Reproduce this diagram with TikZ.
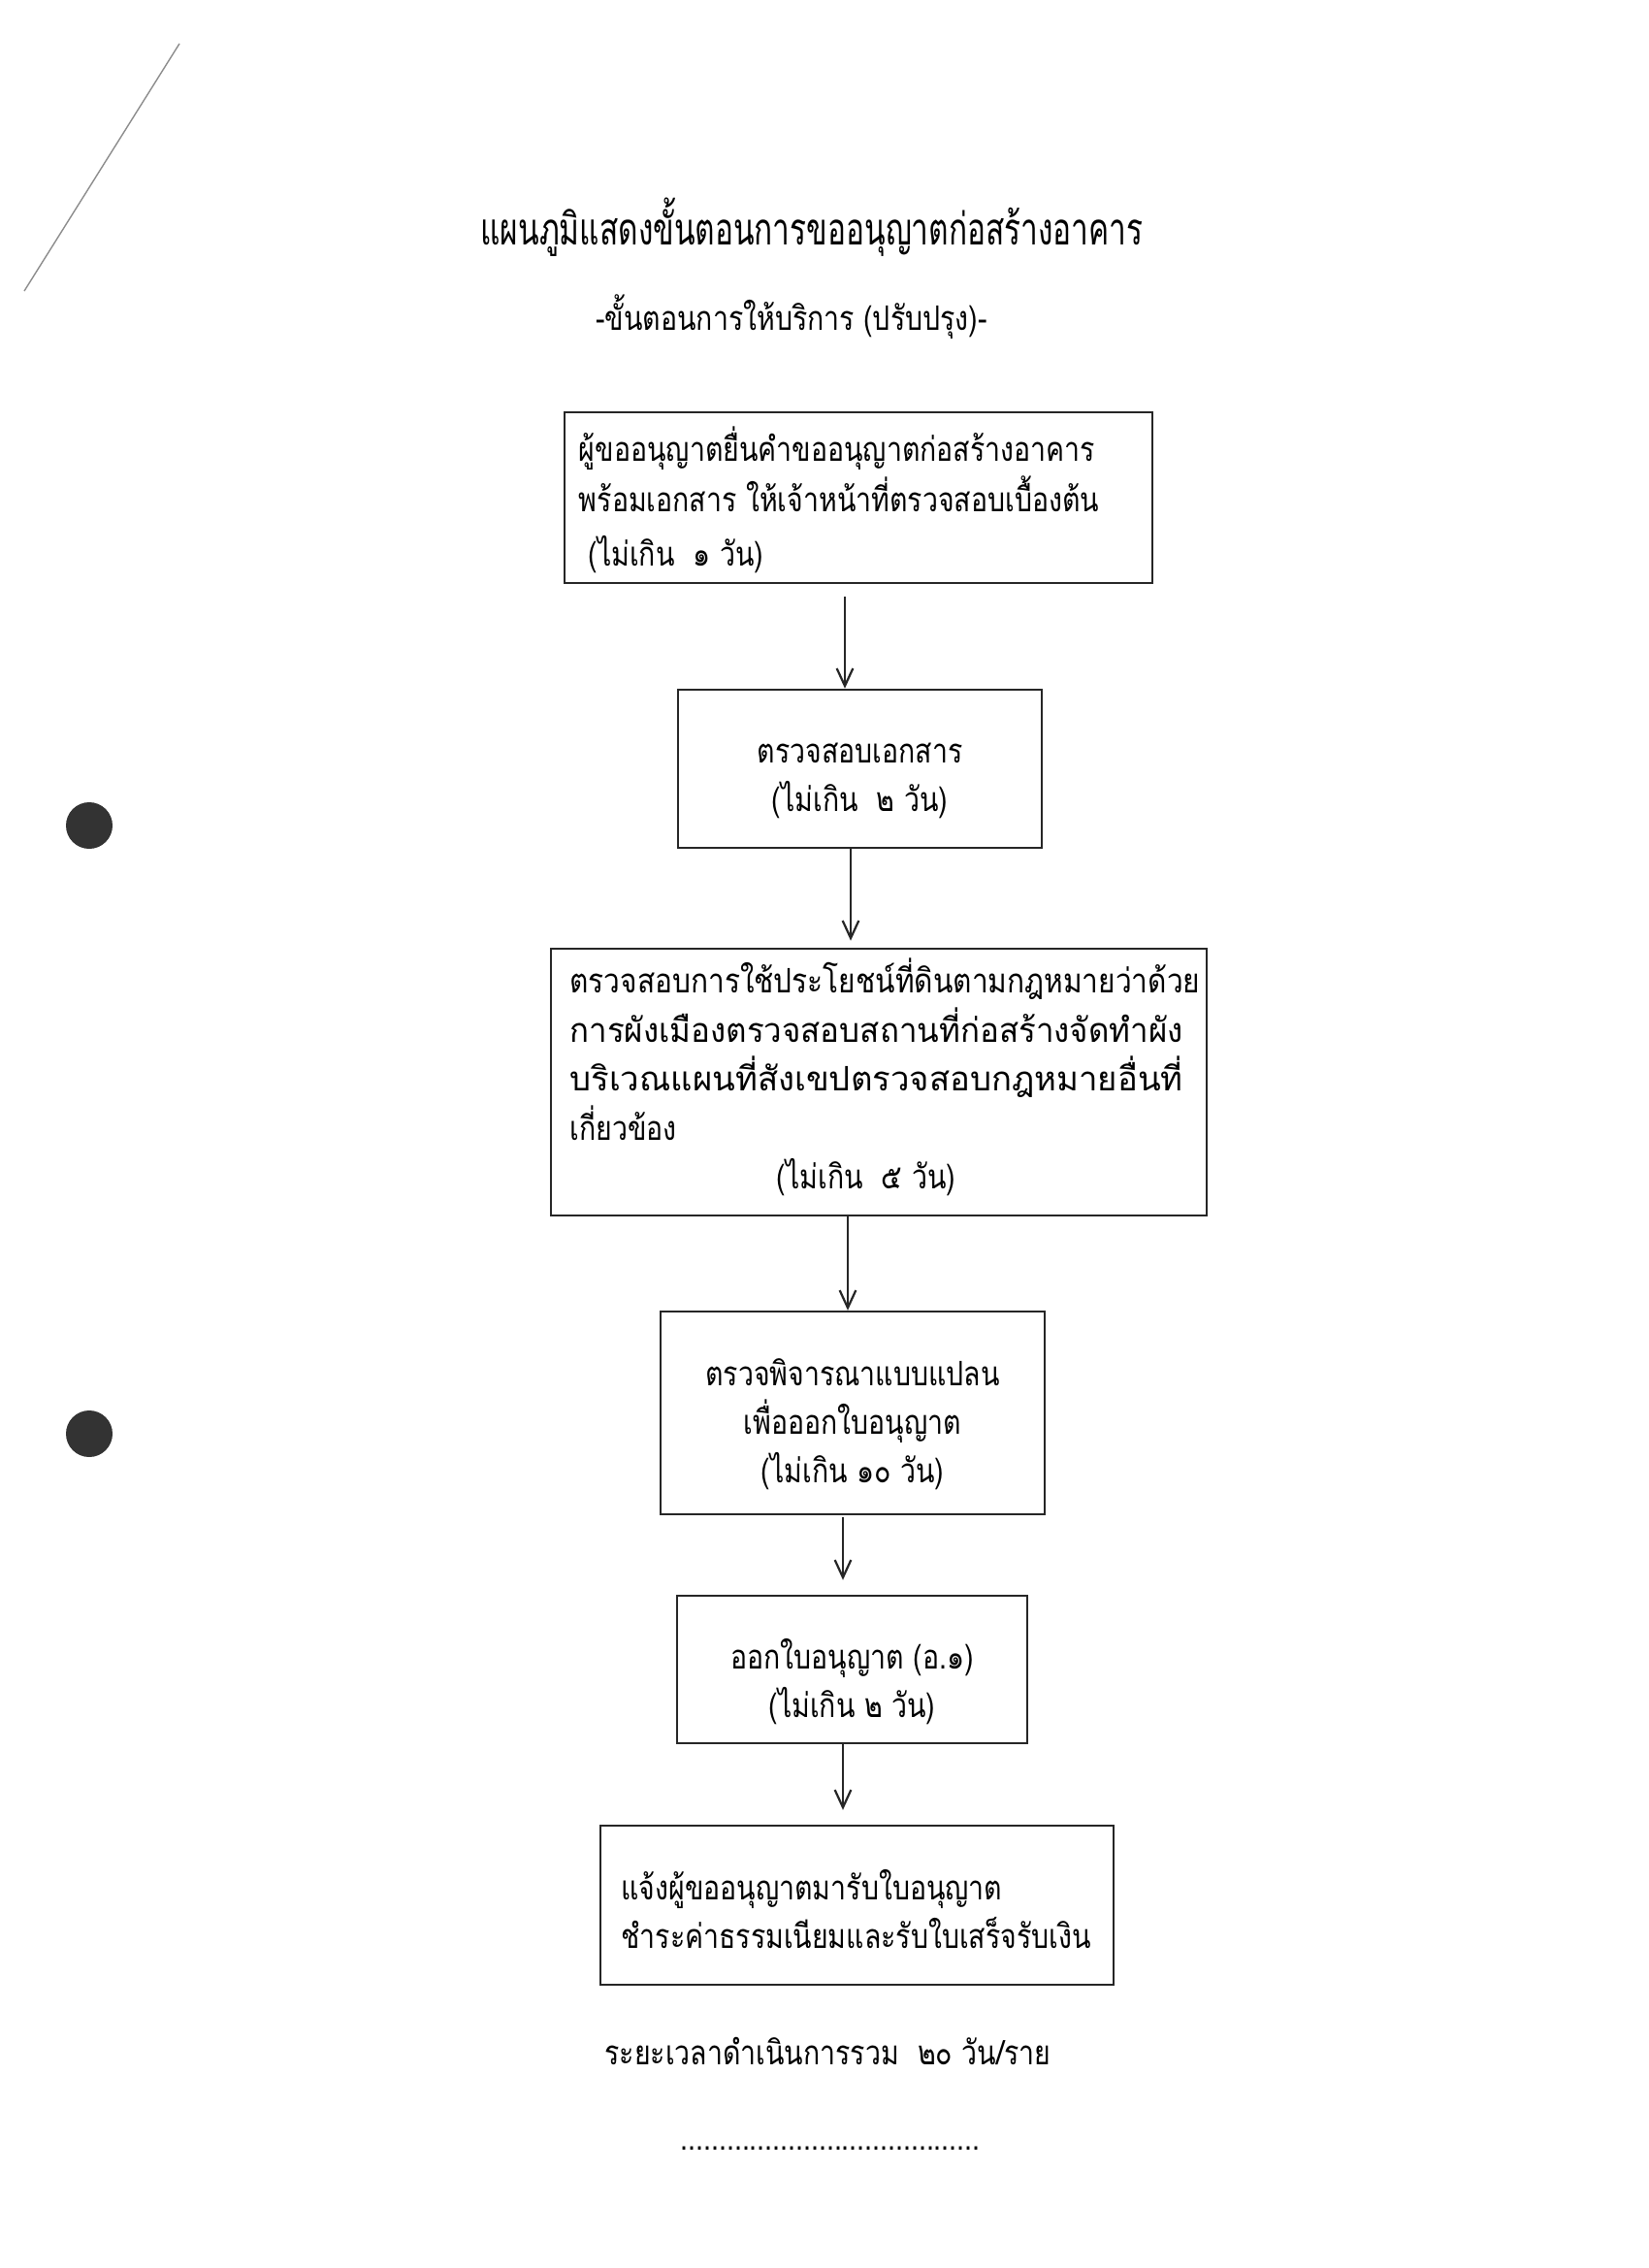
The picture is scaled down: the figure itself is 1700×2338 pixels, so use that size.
\documentclass[tikz,border=0pt]{standalone}
\usepackage{fontspec}
\usepackage{graphicx}
\usetikzlibrary{arrows.meta,calc}
\newfontfamily\thai[Script=Thai, FakeStretch=0.82]{Loma}
\newfontfamily\thaititle[Script=Thai, FakeStretch=0.69]{Loma}
\tikzset{
  box/.style={draw=black!85, line width=0.9pt, rectangle, inner sep=0pt,
    font=\thai\fontsize{12.5}{18}\selectfont},
  arr/.style={draw=black!85, line width=0.8pt, -{Straight Barb[length=6.5pt,width=6pt]}},
  hole/.style={fill=black!80, draw=none},
  label/.style={font=\thai\fontsize{12.5}{18}\selectfont, inner sep=0pt},
}
\begin{document}
\begin{tikzpicture}[x=0.36pt,y=-0.36pt]
\path[use as bounding box, fill=white] (0,0) rectangle (1700,2338);
% scan artefacts
\fill[hole] (92,851) circle (24);
\fill[hole] (92,1478) circle (24);
\draw[black!45, line width=0.5pt] (25,300) -- (185,45);
% title
\node[label, font=\thaititle\fontsize{16.5}{20}\selectfont] (title) at (837,234) {แผนภูมิแสดงขั้นตอนการขออนุญาตก่อสร้างอาคาร};
\node[label] (sub) at (816,327) {-ขั้นตอนการให้บริการ (ปรับปรุง)-};
% boxes
\node[box, minimum width=218.2pt, minimum height=63.4pt] (b1) at (885,513)
  {\raisebox{-5.2pt}[0pt][0pt]{\begin{tabular}{@{}p{207.4pt}@{}}ผู้ขออนุญาตยื่นคำขออนุญาตก่อสร้างอาคาร\\พร้อมเอกสาร ให้เจ้าหน้าที่ตรวจสอบเบื้องต้น\\[2pt]\ (ไม่เกิน~~๑ วัน)\end{tabular}}};
\node[box, minimum width=135pt, minimum height=58.7pt] (b2) at (886.5,792.5)
  {\raisebox{-6.3pt}[0pt][0pt]{\begin{tabular}{@{}c@{}}ตรวจสอบเอกสาร\\(ไม่เกิน~~๒ วัน)\end{tabular}}};
\node[box, minimum width=243.4pt, minimum height=99pt] (b3) at (906,1115.5)
  {\raisebox{-2.5pt}[0pt][0pt]{\begin{tabular}{@{}p{229.4pt}@{}}\resizebox{234pt}{\height}{ตรวจสอบการใช้ประโยชน์ที่ดินตามกฎหมายว่าด้วย}\\\resizebox{227.6pt}{\height}{การผังเมืองตรวจสอบสถานที่ก่อสร้างจัดทำผัง}\\\resizebox{227.6pt}{\height}{บริเวณแผนที่สังเขปตรวจสอบกฎหมายอื่นที่}\\เกี่ยวข้อง\\\makebox[229.4pt]{(ไม่เกิน~~๕ วัน)\hspace*{9.4pt}}\end{tabular}}};
\node[box, minimum width=142.6pt, minimum height=75.2pt] (b4) at (879,1456.5)
  {\raisebox{-7.3pt}[0pt][0pt]{\begin{tabular}{@{}c@{}}ตรวจพิจารณาแบบแปลน\\เพื่อออกใบอนุญาต\\(ไม่เกิน ๑๐ วัน)\end{tabular}}};
\node[box, minimum width=130pt, minimum height=54.7pt] (b5) at (878.5,1721)
  {\raisebox{-8.1pt}[0pt][0pt]{\begin{tabular}{@{}c@{}}ออกใบอนุญาต (อ.๑)\\(ไม่เกิน ๒ วัน)\end{tabular}}};
\node[box, minimum width=190.4pt, minimum height=59pt] (b6) at (883.5,1964)
  {\raisebox{-6.3pt}[0pt][0pt]{\begin{tabular}{@{}p{175pt}@{}}แจ้งผู้ขออนุญาตมารับใบอนุญาต\\ชำระค่าธรรมเนียมและรับใบเสร็จรับเงิน\end{tabular}}};
% footer
\node[label, anchor=west] (total) at (623,2114) {ระยะเวลาดำเนินการรวม~~๒๐ วัน/ราย};
\node[label] (dots) at (856,2215) {.......................................};
% arrows
\draw[arr] ($(b1.south)+(-14,13)$) -- ($(b2.north)+(-15.5,0)$);
\draw[arr] ($(b2.south)+(-9.5,0)$) -- ($(b3.north)+(-29,-7)$);
\draw[arr] ($(b3.south)+(-32,0)$) -- ($(b4.north)+(-5,0)$);
\draw[arr] ($(b4.south)+(-10,2)$) -- ($(b5.north)+(-9.5,-15)$);
\draw[arr] ($(b5.south)+(-9.5,0)$) -- ($(b6.north)+(-14.5,-15)$);
\end{tikzpicture}
\end{document}
